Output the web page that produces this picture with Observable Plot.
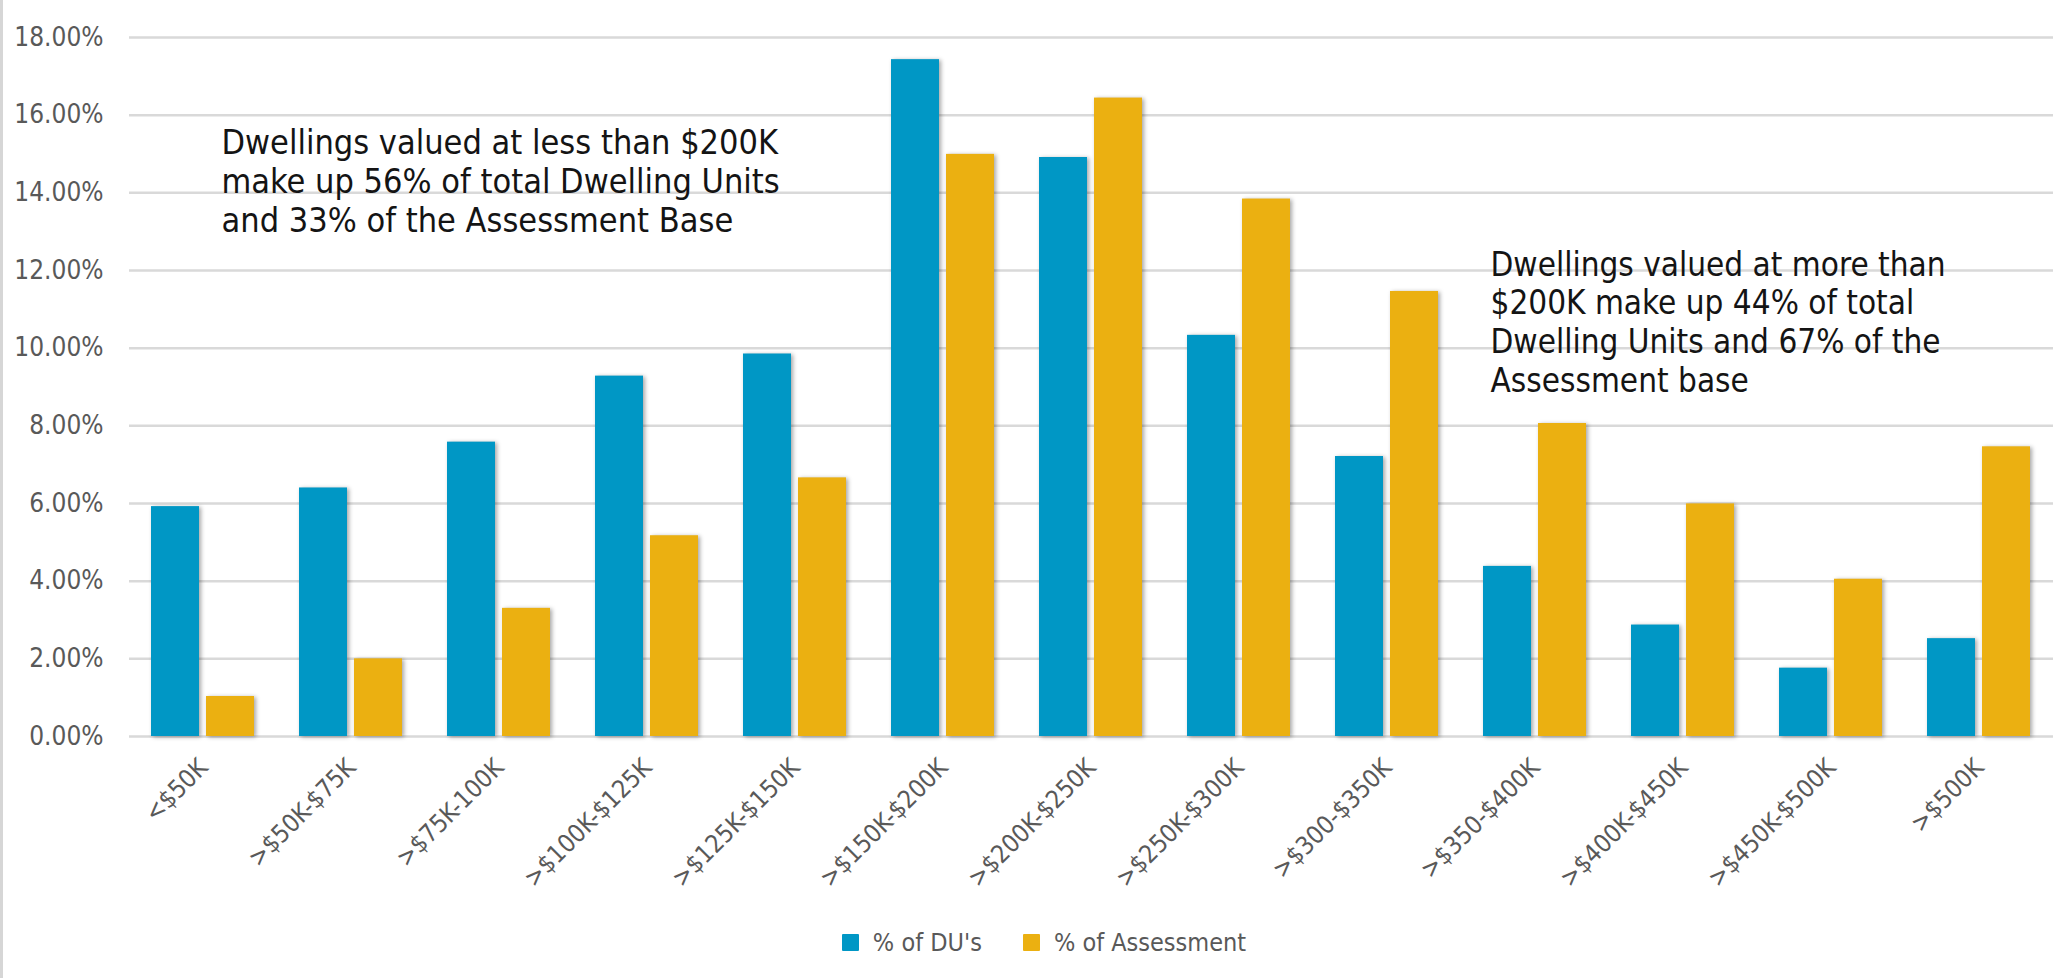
<!DOCTYPE html>
<html>
<head>
<meta charset="utf-8">
<script src="https://cdn.jsdelivr.net/npm/d3@7"></script>
<script src="https://cdn.jsdelivr.net/npm/@observablehq/plot@0.6"></script>
<style>
  html, body { margin: 0; padding: 0; background: #ffffff; }
  body { width: 2065px; height: 978px; overflow: hidden; position: relative; font-family: "DejaVu Sans Condensed", "DejaVu Sans", sans-serif; }
  #edge { position: absolute; left: 0; top: 0; width: 3px; height: 978px; background: #d6d6d6; }
  #chart svg { display: block; }
  #chart g[aria-label="bar"] rect { filter: drop-shadow(2px 1px 2px rgba(0,0,0,0.35)); }
  #chart [aria-label^="fx-axis"] text { font-size: 25px; }
  #legend { display: flex; justify-content: center; align-items: center; padding-left: 23px; height: 72px; box-sizing: border-box; padding-top: 0; font-size: 25px; color: #595959; }
  .item { display: flex; align-items: center; }
  .item + .item { margin-left: 41px; }
  .swatch { width: 17px; height: 17px; margin-right: 14px; border-radius: 1px; }
</style>
</head>
<body>
<div id="edge"></div>
<div id="chart"></div>
<div id="legend"></div>
<script>
// Dwelling value bands
const categories = [
  "<$50K", ">$50K-$75K", ">$75K-100K", ">$100K-$125K", ">$125K-$150K",
  ">$150K-$200K", ">$200K-$250K", ">$250K-$300K", ">$300-$350K",
  ">$350-$400K", ">$400K-$450K", ">$450K-$500K", ">$500K"
];

// Series names and colours
const series = ["% of DU's", "% of Assessment"];
const seriesColors = ["#0097c5", "#ebb011"];

// Share of dwelling units (%) per value band
const duShare = [5.92, 6.40, 7.58, 9.28, 9.85, 17.43, 14.91, 10.33, 7.21, 4.38, 2.87, 1.76, 2.52];

// Share of the assessment base (%) per value band
const assessmentShare = [1.03, 2.00, 3.30, 5.17, 6.66, 14.99, 16.44, 13.84, 11.46, 8.06, 5.99, 4.05, 7.46];

// Y axis ticks (%)
const yTicks = [0, 2, 4, 6, 8, 10, 12, 14, 16, 18];

// Callout texts
const lowNote = [{
  category: "<$50K", y: 14.31,
  text: "Dwellings valued at less than $200K\nmake up 56% of total Dwelling Units\nand 33% of the Assessment Base"
}];
const highNote = [{
  category: ">$350-$400K", y: 10.69,
  text: "Dwellings valued at more than\n$200K make up 44% of total\nDwelling Units and 67% of the\nAssessment base"
}];

const rows = categories.flatMap((c, i) => [
  {category: c, series: series[0], value: duShare[i]},
  {category: c, series: series[1], value: assessmentShare[i]}
]);

const chart = Plot.plot({
  width: 2065,
  height: 906,
  marginLeft: 129,
  marginRight: 12,
  marginTop: 37,
  marginBottom: 170,
  style: {fontFamily: "DejaVu Sans Condensed, DejaVu Sans, sans-serif", fontSize: "26px", color: "#595959", background: "transparent"},
  fx: {domain: categories, padding: 0, axis: "bottom", label: null, tickRotate: -45, tickSize: 0, tickPadding: 27},
  x: {domain: series, paddingInner: 0.125, paddingOuter: 0.384, axis: null},
  y: {domain: [0, 18], ticks: yTicks, tickFormat: d => d.toFixed(2) + "%", tickSize: 0, tickPadding: 26, label: null},
  color: {domain: series, range: seriesColors},
  marks: [
    Plot.ruleY(yTicks, {stroke: "#d9d9d9", strokeWidth: 2.5}),
    Plot.barY(rows, {fx: "category", x: "series", y: "value", fill: "series"}),
    Plot.text(lowNote, {fx: "category", y: "y", text: "text", frameAnchor: "left", dx: 92, textAnchor: "start", lineAnchor: "middle", fontSize: 34, lineHeight: 1.14, fill: "#141414"}),
    Plot.text(highNote, {fx: "category", y: "y", text: "text", frameAnchor: "left", dx: 29, textAnchor: "start", lineAnchor: "middle", fontSize: 33, lineHeight: 1.17, fill: "#141414"})
  ]
});
document.getElementById("chart").appendChild(chart);

// Legend below the chart
const legend = d3.select("#legend");
series.forEach((s, i) => {
  const item = legend.append("div").attr("class", "item");
  item.append("div").attr("class", "swatch").style("background", seriesColors[i]);
  item.append("span").text(s);
});
</script>
</body>
</html>
